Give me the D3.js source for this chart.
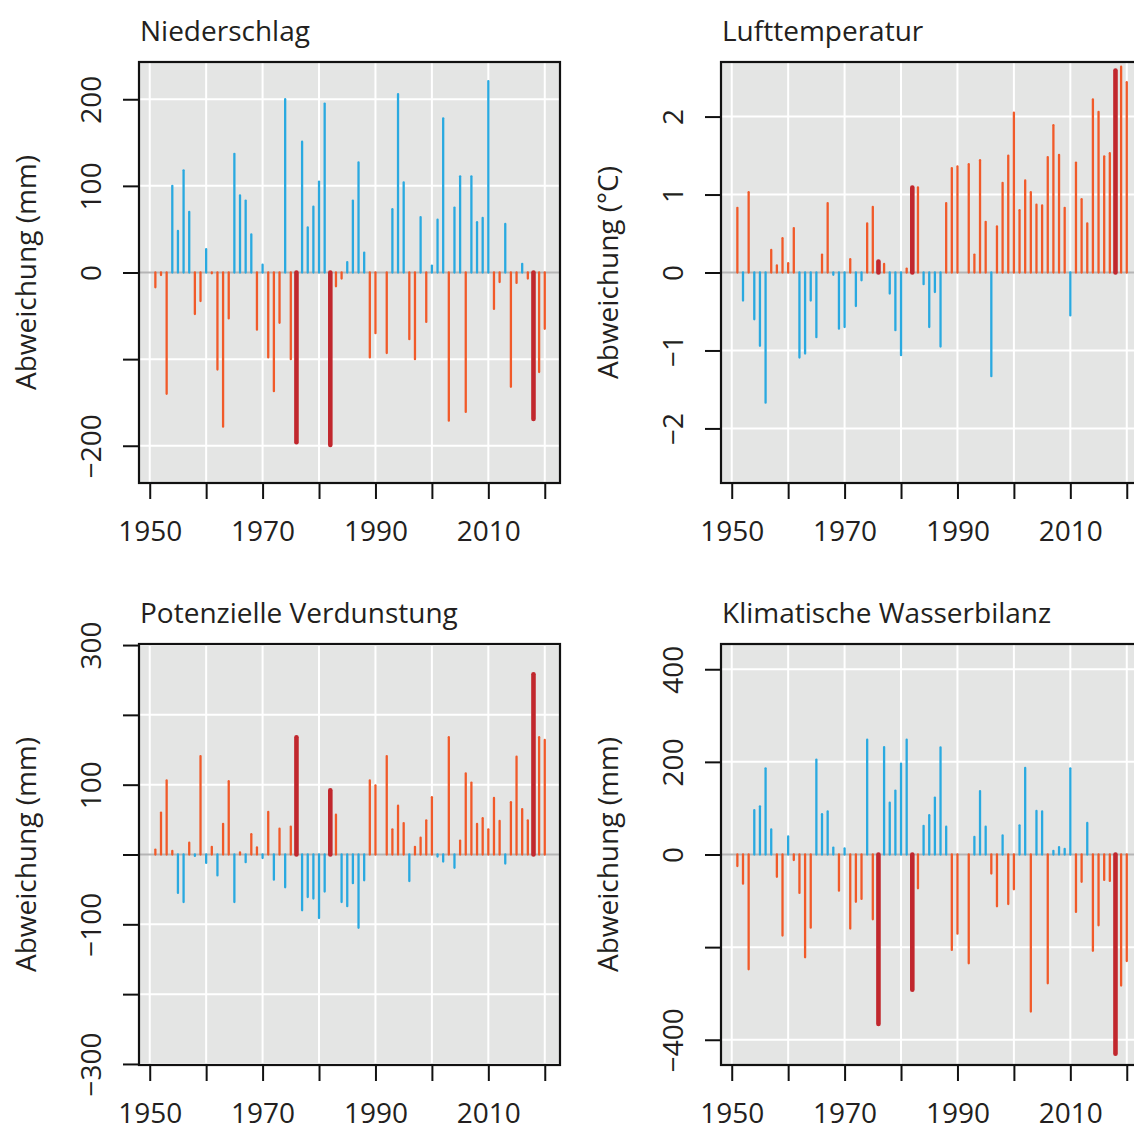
<!DOCTYPE html>
<html lang="de">
<head>
  <meta charset="UTF-8">
  <title>Abweichungen 1951–2020</title>
  <script src="https://d3js.org/d3.v7.min.js"></script>
  <style>
    body { margin: 0; background: #fff; }
    text { font-family: "Open Sans", sans-serif; fill: #231f20; }
  </style>
</head>
<body>
  <svg width="1134" height="1124"></svg>

  <script>
    // years 1951-2020, 1991 has no value
    const years = d3.range(1951, 2021);
    const highlightYears = [1976, 1982, 2018];

    const niederschlag = [
      -17, -3, -140, 100, 48, 118, 70, -48, -33, 27,
      -1, -112, -178, -53, 137, 89, 83, 44, -66, 9,
      -98, -137, -58, 200, -100, -196, 151, 52, 76, 105,
      195, -199, -16, -7, 12, 83, 127, 23, -98, -70,
      null, -93, 73, 206, 104, -77, -100, 64, -57, 8,
      61, 178, -171, 75, 111, -161, 111, 58, 63, 221,
      -42, -11, 56, -132, -12, 10, -7, -169, -115, -65
    ];

    const lufttemperatur = [
      0.83, -0.36, 1.03, -0.60, -0.94, -1.67, 0.29, 0.09, 0.44, 0.12,
      0.57, -1.09, -1.04, -0.36, -0.83, 0.23, 0.89, -0.03, -0.72, -0.70,
      0.17, -0.43, -0.10, 0.63, 0.84, 0.14, 0.11, -0.27, -0.74, -1.06,
      0.05, 1.09, 1.09, -0.15, -0.70, -0.25, -0.95, 0.89, 1.34, 1.36,
      null, 1.39, 0.23, 1.44, 0.65, -1.33, 0.59, 1.15, 1.50, 2.05,
      0.80, 1.18, 1.03, 0.87, 0.86, 1.48, 1.89, 1.51, 0.83, -0.55,
      1.41, 0.94, 0.63, 2.22, 2.06, 1.49, 1.53, 2.59, 2.64, 2.44
    ];

    const verdunstung = [
      7, 60, 106, 5, -55, -68, 17, -2, 141, -12,
      11, -30, 44, 105, -68, 3, -11, 29, 10, -5,
      61, -36, 37, -47, 40, 168, -80, -61, -63, -91,
      -53, 92, 57, -68, -74, -41, -105, -37, 106, 99,
      null, 141, 36, 70, 45, -38, 11, 24, 49, 82,
      -3, -10, 168, -19, 20, 116, 103, 44, 52, 36,
      81, 48, -13, 75, 140, 65, 49, 258, 168, 164
    ];

    const wasserbilanz = [
      -25, -63, -248, 96, 104, 186, 54, -48, -175, 39,
      -12, -83, -222, -158, 205, 87, 93, 15, -78, 13,
      -160, -102, -96, 248, -140, -366, 232, 112, 138, 196,
      248, -292, -73, 62, 85, 123, 231, 60, -206, -171,
      null, -235, 38, 137, 60, -41, -112, 41, -107, -75,
      63, 187, -339, 94, 93, -278, 8, 16, 12, 186,
      -124, -59, 68, -208, -153, -55, -57, -430, -283, -230
    ];

    const xTicks = d3.range(1950, 2021, 10);
    const xLabels = [1950, 1970, 1990, 2010];

    const panels = [
      { title: 'Niederschlag', values: niederschlag, ylab: 'Abweichung (mm)',
        ymax: 243, yTicks: [-200, -100, 0, 100, 200], yLabels: [-200, 0, 100, 200],
        wetUp: true, left: 139, top: 62 },
      { title: 'Lufttemperatur', values: lufttemperatur, ylab: 'Abweichung (°C)',
        ymax: 2.7, yTicks: [-2, -1, 0, 1, 2], yLabels: [-2, -1, 0, 1, 2],
        wetUp: false, left: 721, top: 62 },
      { title: 'Potenzielle Verdunstung', values: verdunstung, ylab: 'Abweichung (mm)',
        ymax: 301.5, yTicks: [-300, -200, -100, 0, 100, 200, 300], yLabels: [-300, -100, 100, 300],
        wetUp: false, left: 139, top: 644 },
      { title: 'Klimatische Wasserbilanz', values: wasserbilanz, ylab: 'Abweichung (mm)',
        ymax: 454.5, yTicks: [-400, -200, 0, 200, 400], yLabels: [-400, 0, 200, 400],
        wetUp: true, left: 721, top: 644 }
    ];

    const W = 421, H = 421;
    const blue = '#29a9e0', orange = '#f15a29', red = '#c1272d';
    const fmt = v => String(v).replace('-', '\u2212');

    const svg = d3.select('svg');

    panels.forEach(p => {
      const g = svg.append('g').attr('transform', `translate(${p.left},${p.top})`);
      const x = d3.scaleLinear().domain([1948.1, 2022.7]).range([0, W]);
      const y = d3.scaleLinear().domain([-p.ymax, p.ymax]).range([H, 0]);

      // background
      g.append('rect').attr('width', W).attr('height', H).attr('fill', '#e4e5e4');

      // grid
      g.selectAll('.vgrid').data(xTicks).enter().append('line')
        .attr('x1', d => x(d)).attr('x2', d => x(d))
        .attr('y1', 0).attr('y2', H)
        .attr('stroke', '#fff').attr('stroke-width', 2);
      g.selectAll('.hgrid').data(p.yTicks.filter(d => d !== 0)).enter().append('line')
        .attr('x1', 0).attr('x2', W)
        .attr('y1', d => y(d)).attr('y2', d => y(d))
        .attr('stroke', '#fff').attr('stroke-width', 2);

      // zero line
      g.append('line')
        .attr('x1', 0).attr('x2', W)
        .attr('y1', y(0)).attr('y2', y(0))
        .attr('stroke', '#b5b5b5').attr('stroke-width', 2);

      // bars
      const data = years.map((yr, i) => ({ year: yr, v: p.values[i] }))
        .filter(d => d.v !== null);
      g.selectAll('.bar').data(data).enter().append('line')
        .attr('x1', d => x(d.year)).attr('x2', d => x(d.year))
        .attr('y1', y(0)).attr('y2', d => y(d.v))
        .attr('stroke-linecap', 'round')
        .attr('stroke-width', d => highlightYears.includes(d.year) ? 4.6 : 2.3)
        .attr('stroke', d => {
          if (highlightYears.includes(d.year)) return red;
          const up = d.v >= 0;
          return (up === p.wetUp) ? blue : orange;
        });

      // box
      g.append('rect').attr('width', W).attr('height', H)
        .attr('fill', 'none').attr('stroke', '#111').attr('stroke-width', 2.2);

      // y axis
      const ya = g.append('g')
        .call(d3.axisLeft(y).tickValues(p.yTicks).tickSize(16).tickSizeOuter(0)
          .tickFormat(d => p.yLabels.includes(d) ? fmt(d) : ''));
      ya.select('.domain').remove();
      ya.selectAll('line').attr('stroke', '#111').attr('stroke-width', 2);
      ya.selectAll('text')
        .attr('transform', 'rotate(-90)')
        .attr('x', 0).attr('y', -38).attr('dy', 0)
        .attr('text-anchor', 'middle')
        .style('font-size', '28px').style('font-family', '"Open Sans", sans-serif')
        .attr('fill', '#231f20');

      // x axis
      const xa = g.append('g').attr('transform', `translate(0,${H})`)
        .call(d3.axisBottom(x).tickValues(xTicks).tickSize(16).tickSizeOuter(0)
          .tickFormat(d => xLabels.includes(d) ? d : ''));
      xa.select('.domain').remove();
      xa.selectAll('line').attr('stroke', '#111').attr('stroke-width', 2);
      xa.selectAll('text')
        .attr('y', 58).attr('dy', 0)
        .style('font-size', '28px').style('font-family', '"Open Sans", sans-serif')
        .attr('fill', '#231f20');

      // title
      g.append('text').attr('x', 1).attr('y', -21)
        .style('font-size', '28px')
        .text(p.title);

      // y label
      g.append('text')
        .attr('transform', `translate(-103,${H / 2}) rotate(-90)`)
        .attr('text-anchor', 'middle')
        .style('font-size', '28px')
        .text(p.ylab);
    });
  </script>
</body>
</html>
